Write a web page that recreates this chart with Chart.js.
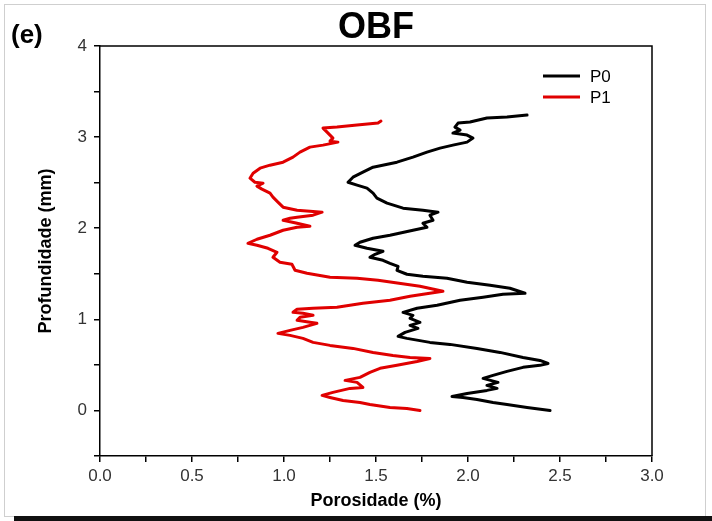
<!DOCTYPE html>
<html><head><meta charset="utf-8">
<script src="https://cdn.jsdelivr.net/npm/chart.js@4.4.0/dist/chart.umd.min.js"></script>
<style>html,body{margin:0;padding:0;background:#fff;}</style>
</head><body>
<canvas id="c" width="712" height="521"></canvas>
<script>
// ---- data ----
const seriesNames = ['P0', 'P1'];
const seriesColors = ['#000000', '#e00000'];
const panelLabel = '(e)';
const chartTitle = 'OBF';
const xAxisTitle = 'Porosidade (%)';
const yAxisTitle = 'Profundidade (mm)';
const xTickLabels = ['0.0', '0.5', '1.0', '1.5', '2.0', '2.5', '3.0'];
const yTickLabels = ['0', '1', '2', '3', '4'];

const p0Porosity = [2.446, 2.321, 2.212, 2.136, 2.049, 1.973, 1.913, 1.995, 2.103, 2.158,
  2.103, 2.163, 2.082, 2.136, 2.212, 2.299, 2.391, 2.435, 2.391, 2.299,
  2.174, 2.049, 1.902, 1.793, 1.668, 1.620, 1.658, 1.728, 1.685, 1.739,
  1.685, 1.701, 1.647, 1.723, 1.832, 1.957, 2.082, 2.190, 2.310, 2.228,
  2.120, 1.995, 1.886, 1.755, 1.668, 1.614, 1.620, 1.576, 1.538, 1.467,
  1.495, 1.538, 1.451, 1.386, 1.413, 1.484, 1.576, 1.701, 1.777, 1.755,
  1.810, 1.793, 1.837, 1.755, 1.647, 1.560, 1.505, 1.484, 1.451, 1.397,
  1.348, 1.375, 1.429, 1.484, 1.614, 1.701, 1.777, 1.848, 1.918, 1.995,
  2.027, 1.995, 1.918, 1.957, 1.929, 1.946, 2.011, 2.103, 2.212, 2.321];
const p0Depth = [0, 0.033, 0.066, 0.088, 0.121, 0.143, 0.154, 0.187, 0.220, 0.242,
  0.275, 0.308, 0.352, 0.385, 0.429, 0.473, 0.495, 0.516, 0.549, 0.582,
  0.637, 0.681, 0.725, 0.747, 0.791, 0.813, 0.857, 0.901, 0.934, 0.967,
  1.011, 1.044, 1.077, 1.121, 1.154, 1.209, 1.242, 1.275, 1.286, 1.341,
  1.374, 1.407, 1.451, 1.473, 1.495, 1.538, 1.582, 1.615, 1.648, 1.681,
  1.714, 1.747, 1.780, 1.813, 1.846, 1.890, 1.923, 1.978, 2.011, 2.055,
  2.088, 2.143, 2.176, 2.198, 2.220, 2.275, 2.330, 2.385, 2.440, 2.473,
  2.505, 2.560, 2.615, 2.670, 2.725, 2.780, 2.835, 2.879, 2.912, 2.945,
  2.989, 3.022, 3.044, 3.077, 3.110, 3.154, 3.165, 3.209, 3.220, 3.242];

const p1Porosity = [1.739, 1.668, 1.576, 1.467, 1.413, 1.321, 1.250, 1.207, 1.266, 1.359,
  1.429, 1.397, 1.332, 1.413, 1.467, 1.522, 1.614, 1.723, 1.793, 1.685,
  1.592, 1.484, 1.375, 1.250, 1.158, 1.103, 1.033, 0.967, 1.033, 1.103,
  1.179, 1.141, 1.071, 1.087, 1.158, 1.103, 1.049, 1.071, 1.158, 1.288,
  1.429, 1.576, 1.685, 1.864, 1.739, 1.511, 1.397, 1.250, 1.125, 1.060,
  1.043, 0.978, 0.940, 0.962, 0.913, 0.853, 0.804, 0.853, 0.924, 0.995,
  1.071, 1.141, 1.071, 0.995, 1.033, 1.071, 1.158, 1.207, 1.141, 1.071,
  0.995, 0.967, 0.940, 0.924, 0.880, 0.853, 0.886, 0.842, 0.815, 0.832,
  0.870, 0.924, 0.995, 1.049, 1.087, 1.141, 1.212, 1.293, 1.250, 1.266,
  1.250, 1.234, 1.212, 1.288, 1.397, 1.511, 1.527];
const p1Depth = [0, 0.022, 0.033, 0.066, 0.088, 0.110, 0.143, 0.165, 0.198, 0.242,
  0.253, 0.308, 0.330, 0.363, 0.418, 0.462, 0.495, 0.538, 0.571, 0.582,
  0.604, 0.637, 0.681, 0.714, 0.747, 0.791, 0.824, 0.846, 0.879, 0.912,
  0.956, 0.967, 0.989, 1.022, 1.044, 1.066, 1.077, 1.110, 1.121, 1.132,
  1.176, 1.209, 1.253, 1.308, 1.363, 1.429, 1.451, 1.462, 1.505, 1.538,
  1.604, 1.626, 1.681, 1.736, 1.780, 1.813, 1.835, 1.879, 1.923, 1.978,
  2.011, 2.022, 2.055, 2.088, 2.110, 2.121, 2.143, 2.176, 2.187, 2.198,
  2.231, 2.286, 2.341, 2.385, 2.429, 2.462, 2.495, 2.505, 2.549, 2.604,
  2.659, 2.692, 2.725, 2.780, 2.835, 2.890, 2.912, 2.945, 2.956, 2.989,
  3.022, 3.055, 3.099, 3.110, 3.132, 3.154, 3.176];

// ---- chart ----
const FONT = '"Liberation Sans", Arial, sans-serif';
Chart.defaults.font.family = FONT;

const toPoints = (xs, ys) => xs.map((x, i) => ({ x: x, y: ys[i] }));
const pickLabel = (labels, v) => {
  const hit = labels.find(l => Math.abs(parseFloat(l) - v) < 1e-6);
  return hit === undefined ? '' : hit;
};

const backgroundPlugin = {
  id: 'pageFrame',
  beforeDraw(chart) {
    const ctx = chart.ctx;
    ctx.save();
    ctx.fillStyle = '#fff';
    ctx.fillRect(0, 0, chart.width, chart.height);
    ctx.strokeStyle = '#cfcfcf';
    ctx.lineWidth = 1;
    ctx.strokeRect(4.5, 4.5, 701, 512);
    ctx.restore();
  },
  afterDraw(chart) {
    const ctx = chart.ctx;
    ctx.save();
    ctx.fillStyle = '#111';
    ctx.fillRect(14, 516, chart.width - 14, 5);
    ctx.fillStyle = '#000';
    ctx.font = 'bold 26px ' + FONT;
    ctx.textBaseline = 'alphabetic';
    ctx.textAlign = 'left';
    ctx.fillText(panelLabel, 11, 43);
    ctx.restore();
  }
};

const boxPlugin = {
  id: 'plotBox',
  afterDatasetsDraw(chart) {
    const a = chart.chartArea, ctx = chart.ctx;
    ctx.save();
    ctx.strokeStyle = '#000';
    ctx.lineWidth = 1.5;
    ctx.beginPath();
    ctx.moveTo(a.left, a.top);
    ctx.lineTo(a.right, a.top);
    ctx.lineTo(a.right, a.bottom);
    ctx.stroke();
    ctx.restore();
  }
};

const legendPlugin = {
  id: 'insideLegend',
  afterDraw(chart) {
    const a = chart.chartArea, ctx = chart.ctx;
    ctx.save();
    chart.data.datasets.forEach((ds, i) => {
      const y = a.top + 30 + i * 21;
      const x0 = a.right - 109, x1 = a.right - 72;
      ctx.strokeStyle = ds.borderColor;
      ctx.lineWidth = 3;
      ctx.beginPath();
      ctx.moveTo(x0, y);
      ctx.lineTo(x1, y);
      ctx.stroke();
      ctx.fillStyle = '#000';
      ctx.font = '17px ' + FONT;
      ctx.textBaseline = 'middle';
      ctx.textAlign = 'left';
      ctx.fillText(ds.label, x1 + 10, y + 1);
    });
    ctx.restore();
  }
};

new Chart(document.getElementById('c'), {
  type: 'scatter',
  data: {
    datasets: [
      { label: seriesNames[0], data: toPoints(p0Porosity, p0Depth), borderColor: seriesColors[0], backgroundColor: seriesColors[0] },
      { label: seriesNames[1], data: toPoints(p1Porosity, p1Depth), borderColor: seriesColors[1], backgroundColor: seriesColors[1] }
    ].map(d => Object.assign(d, { showLine: true, pointRadius: 0, borderWidth: 3, tension: 0, fill: false, borderJoinStyle: 'round', borderCapStyle: 'round' }))
  },
  options: {
    responsive: false,
    animation: false,
    devicePixelRatio: 1,
    layout: { padding: { top: 10, right: 60, bottom: 0, left: 0 } },
    plugins: {
      legend: { display: false },
      tooltip: { enabled: false },
      title: {
        display: true, text: chartTitle, fullSize: false, color: '#000',
        font: { size: 36, weight: 'bold', lineHeight: 1 },
        padding: { top: 0, bottom: 0 }
      }
    },
    scales: {
      x: {
        type: 'linear', position: 'bottom', min: 0, max: 3,
        afterFit: s => { s.height = 65; },
        ticks: {
          stepSize: 0.25, autoSkip: false, maxRotation: 0, color: '#333', padding: 4,
          font: { size: 17 },
          callback: v => pickLabel(xTickLabels, v)
        },
        grid: { drawOnChartArea: false, drawTicks: true, tickLength: 6, color: '#000', lineWidth: 1.5 },
        border: { display: true, color: '#000', width: 1.5 },
        title: { display: true, text: xAxisTitle, color: '#000', font: { size: 18, weight: 'bold' }, padding: { top: 9, bottom: 9 } }
      },
      y: {
        type: 'linear', position: 'left', min: -0.5, max: 4,
        afterFit: s => { s.width = 100; },
        ticks: {
          stepSize: 0.5, autoSkip: false, color: '#333', padding: 7,
          font: { size: 17 },
          callback: v => pickLabel(yTickLabels, v)
        },
        grid: { drawOnChartArea: false, drawTicks: true, tickLength: 6, color: '#000', lineWidth: 1.5 },
        border: { display: true, color: '#000', width: 1.5 },
        title: { display: true, text: yAxisTitle, color: '#000', font: { size: 18, weight: 'bold' }, padding: { top: 35, bottom: 35 } }
      }
    }
  },
  plugins: [backgroundPlugin, boxPlugin, legendPlugin]
});
</script>
</body></html>
